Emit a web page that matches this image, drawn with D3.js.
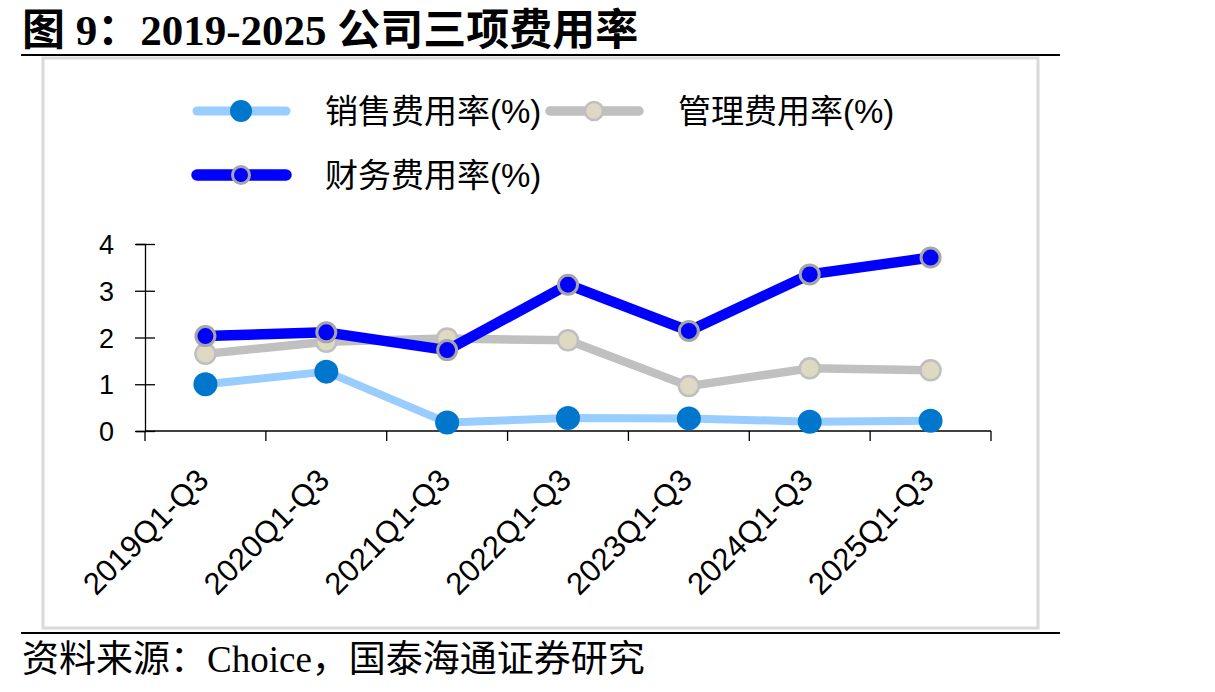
<!DOCTYPE html>
<html>
<head>
<meta charset="utf-8">
<script src="https://cdn.jsdelivr.net/npm/d3@7"></script>
<style>
  body { margin: 0; background: #fff; }
</style>
</head>
<body>
<div id="chart"></div>
<script>
const categories = ["2019Q1-Q3", "2020Q1-Q3", "2021Q1-Q3", "2022Q1-Q3", "2023Q1-Q3", "2024Q1-Q3", "2025Q1-Q3"];
const salesRate = [1.00, 1.27, 0.18, 0.28, 0.27, 0.20, 0.22];
const adminRate = [1.65, 1.91, 1.98, 1.94, 0.96, 1.34, 1.30];
const financeRate = [2.03, 2.11, 1.73, 3.13, 2.14, 3.35, 3.71];
const yTicks = [0, 1, 2, 3, 4];
const seriesNames = ["销售费用率(%)", "管理费用率(%)", "财务费用率(%)"];

const W = 1215, H = 692;
const latin = "'Liberation Sans', Arial, 'Noto Sans CJK SC', sans-serif";
const serif = "'Liberation Serif', 'Times New Roman', 'Noto Sans CJK SC', serif";

const svg = d3.select("#chart").append("svg")
  .attr("width", W).attr("height", H)
  .style("display", "block");

// title
svg.append("text")
  .attr("x", 22).attr("y", 45)
  .style("font-family", serif)
  .style("font-weight", "bold")
  .style("font-size", "43px")
  .text("图 9：2019-2025 公司三项费用率");

// rules + frame
svg.append("line").attr("x1", 21).attr("x2", 1060).attr("y1", 55).attr("y2", 55)
  .attr("stroke", "#000").attr("stroke-width", 2);
svg.append("rect").attr("x", 43).attr("y", 58).attr("width", 995).attr("height", 570)
  .attr("fill", "none").attr("stroke", "#d9d9d9").attr("stroke-width", 3);
svg.append("line").attr("x1", 21).attr("x2", 1060).attr("y1", 633).attr("y2", 633)
  .attr("stroke", "#000").attr("stroke-width", 2);

svg.append("text")
  .attr("x", 22).attr("y", 672)
  .style("font-family", serif)
  .style("font-size", "37px")
  .text("资料来源：Choice，国泰海通证券研究");

// scales
const x = d3.scaleBand().domain(categories).range([145, 991]).padding(0);
const cx = (c) => x(c) + x.bandwidth() / 2;
const y = d3.scaleLinear().domain([0, 4]).range([431, 244]);

// y axis
const yAxis = svg.append("g")
  .attr("transform", "translate(145,0)")
  .call(d3.axisLeft(y).tickValues(yTicks).tickFormat(d3.format("d")).tickSize(9).tickPadding(0));
yAxis.select(".domain").attr("stroke", "#000").attr("stroke-width", 1.3);
yAxis.selectAll(".tick line").attr("x1", 10).attr("x2", -10).attr("stroke-width", 1.3);
yAxis.selectAll(".tick text")
  .attr("x", -31)
  .attr("dy", "0.36em")
  .style("font-family", latin)
  .style("font-size", "27px")
  .attr("fill", "#000");

// x axis: category boundaries like Excel
const bounds = categories.map((c) => x(c)).concat(x.range()[1]);
svg.append("line").attr("x1", x.range()[0]).attr("x2", x.range()[1])
  .attr("y1", y(0)).attr("y2", y(0)).attr("stroke", "#000").attr("stroke-width", 1.3);
svg.selectAll(".xtick").data(bounds).enter().append("line")
  .attr("x1", (d) => d).attr("x2", (d) => d)
  .attr("y1", y(0)).attr("y2", y(0) + 10)
  .attr("stroke", "#000").attr("stroke-width", 1.3);
svg.selectAll(".xlabel").data(categories).enter().append("text")
  .attr("transform", (d) => `translate(${cx(d) + 5},482) rotate(-45)`)
  .attr("text-anchor", "end")
  .style("font-family", latin)
  .style("font-size", "31px")
  .text((d) => d);

// series
const series = [
  { name: seriesNames[0], values: salesRate, line: "#99ccff", lw: 8, fill: "#0077cc", stroke: "none", sw: 0, r: 12 },
  { name: seriesNames[1], values: adminRate, line: "#c0c0c0", lw: 8.5, fill: "#ddd9c3", stroke: "#bfbfbf", sw: 2.5, r: 10 },
  { name: seriesNames[2], values: financeRate, line: "#0000ff", lw: 10.5, fill: "#0000ff", stroke: "#a6a6a6", sw: 3, r: 9.5 },
];

const lineGen = d3.line().x((d, i) => cx(categories[i])).y((d) => y(d));

series.forEach((s) => {
  const g = svg.append("g");
  g.append("path")
    .attr("d", lineGen(s.values))
    .attr("fill", "none")
    .attr("stroke", s.line)
    .attr("stroke-width", s.lw)
    .attr("stroke-linejoin", "round");
  g.selectAll("circle").data(s.values).enter().append("circle")
    .attr("cx", (d, i) => cx(categories[i]))
    .attr("cy", (d) => y(d))
    .attr("r", s.r)
    .attr("fill", s.fill)
    .attr("stroke", s.stroke)
    .attr("stroke-width", s.sw);
});

// legend
const legendPos = [
  { x: 197, y: 111 },
  { x: 550, y: 111 },
  { x: 197, y: 175 },
];
series.forEach((s, i) => {
  const p = legendPos[i];
  const g = svg.append("g").attr("transform", `translate(${p.x},${p.y})`);
  g.append("line").attr("x1", 0).attr("x2", 89).attr("y1", 0).attr("y2", 0)
    .attr("stroke", s.line).attr("stroke-width", s.lw + 1).attr("stroke-linecap", "round");
  g.append("circle").attr("cx", 44).attr("cy", 0).attr("r", s.r - 1)
    .attr("fill", s.fill).attr("stroke", s.stroke).attr("stroke-width", s.sw);
  g.append("text")
    .attr("x", 128).attr("y", 0).attr("dy", "0.35em")
    .style("font-family", latin)
    .style("font-size", "33px")
    .text(s.name);
});
</script>
</body>
</html>
